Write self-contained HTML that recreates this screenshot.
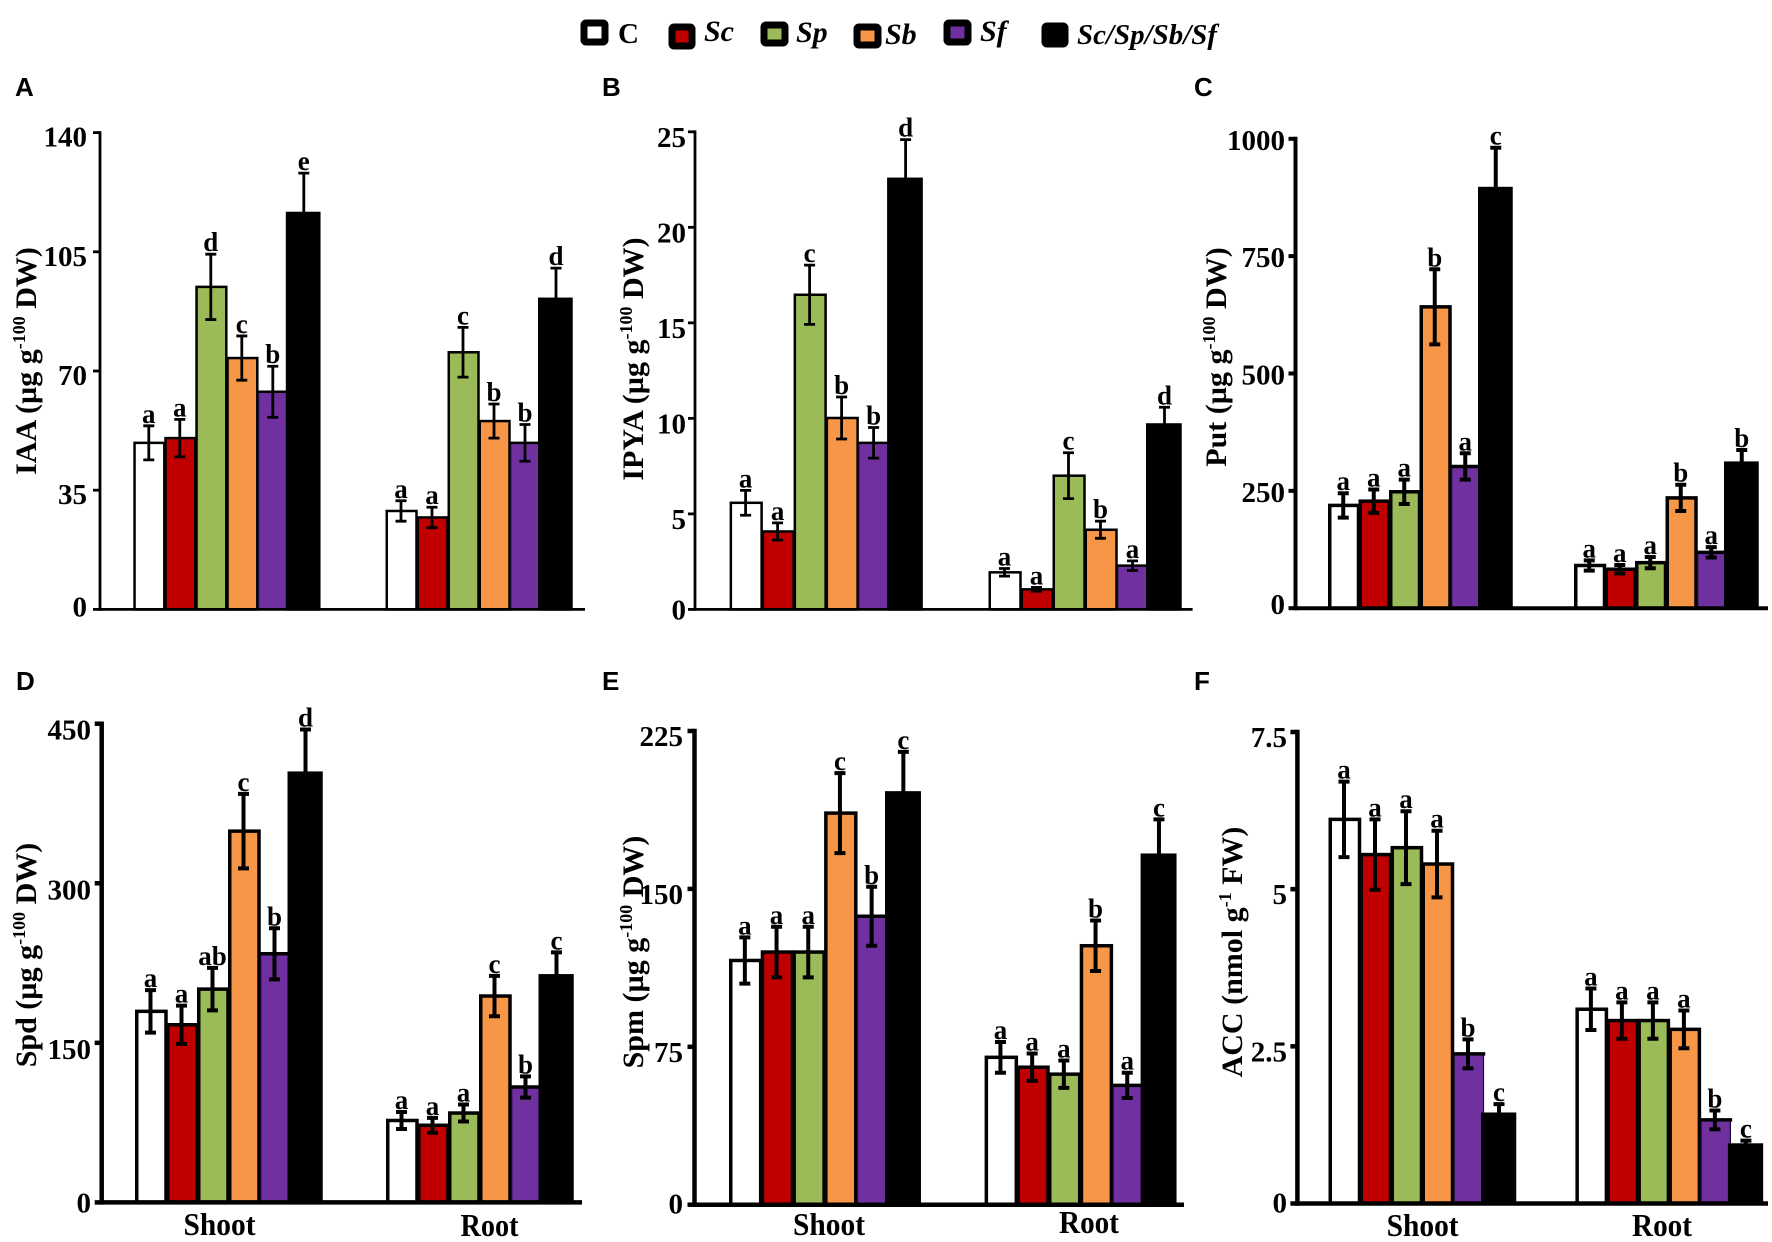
<!DOCTYPE html>
<html lang="en">
<head>
<meta charset="utf-8">
<title>Auxin and polyamine content in shoot and root</title>
<style>
html,body{margin:0;padding:0;background:#fff;width:1772px;height:1242px;overflow:hidden}
svg{display:block}
text{font-family:"Liberation Serif",serif;font-weight:700;fill:#000}
.panel-tag{font-family:"Liberation Sans",sans-serif;font-size:26px}
.ytitle{font-size:30px;text-anchor:middle}
.legend-text{font-size:30px;font-style:italic}
</style>
</head>
<body>
<svg id="figure" xmlns="http://www.w3.org/2000/svg" width="1772" height="1242" viewBox="0 0 1772 1242">
  <rect x="0" y="0" width="1772" height="1242" fill="#fff"/>
  <g>
    <g><rect x="584" y="23" width="21" height="19" rx="2" fill="#fff" stroke="#000" stroke-width="7"/><text x="618" y="43" font-size="29">C</text></g>
    <g><rect x="672" y="27" width="20" height="19" rx="2" fill="#c00000" stroke="#000" stroke-width="7"/><text class="legend-text" x="704" y="41">Sc</text></g>
    <g><rect x="764" y="25" width="21" height="18" rx="2" fill="#9bbb59" stroke="#000" stroke-width="7"/><text class="legend-text" x="796" y="42">Sp</text></g>
    <g><rect x="857" y="27" width="21" height="18" rx="2" fill="#f79646" stroke="#000" stroke-width="7"/><text class="legend-text" x="885" y="44">Sb</text></g>
    <g><rect x="947" y="23" width="21" height="19" rx="2" fill="#7030a0" stroke="#000" stroke-width="7"/><text class="legend-text" x="980" y="41">Sf</text></g>
    <g><rect x="1045" y="26" width="20" height="18" rx="2" fill="#000" stroke="#000" stroke-width="7"/><text x="1077" y="44" font-size="29" font-style="italic" textLength="140" lengthAdjust="spacingAndGlyphs">Sc/Sp/Sb/Sf</text></g>
  </g>

  <text class="panel-tag" x="15" y="96">A</text>
  <text class="panel-tag" x="602" y="96">B</text>
  <text class="panel-tag" x="1194" y="96">C</text>
  <text class="panel-tag" x="16" y="690">D</text>
  <text class="panel-tag" x="602" y="690">E</text>
  <text class="panel-tag" x="1194" y="690">F</text>

  <text class="ytitle" transform="translate(36 361) rotate(-90)">IAA (µg g<tspan font-size="18" dy="-11">-100</tspan><tspan dy="11"> DW)</tspan></text>
  <text class="ytitle" transform="translate(643 359) rotate(-90)">IPYA (µg g<tspan font-size="18" dy="-11">-100</tspan><tspan dy="11"> DW)</tspan></text>
  <text class="ytitle" transform="translate(1226 357) rotate(-90)">Put (µg g<tspan font-size="18" dy="-11">-100</tspan><tspan dy="11"> DW)</tspan></text>
  <text class="ytitle" transform="translate(36 955) rotate(-90)">Spd (µg g<tspan font-size="18" dy="-11">-100</tspan><tspan dy="11"> DW)</tspan></text>
  <text class="ytitle" transform="translate(643 952) rotate(-90)">Spm (µg g<tspan font-size="18" dy="-11">-100</tspan><tspan dy="11"> DW)</tspan></text>
  <text class="ytitle" transform="translate(1242 952) rotate(-90)">ACC (nmol g<tspan font-size="18" dy="-11">-1</tspan><tspan dy="11"> FW)</tspan></text>

  <g id="plots"></g>
</svg>
<script>
const categories = ['Shoot', 'Root'];
const seriesNames = ['C', 'Sc', 'Sp', 'Sb', 'Sf', 'Sc/Sp/Sb/Sf'];
const seriesColors = ['#ffffff', '#c00000', '#9bbb59', '#f79646', '#7030a0', '#000000'];

const iaaTicks = [0, 35, 70, 105, 140];
const iaaShoot = [48.9, 50.3, 94.7, 73.8, 63.9, 116.4];
const iaaShootErr = [5, 5.5, 9.6, 6.5, 7.5, 11.7];
const iaaShootLetters = ['a', 'a', 'd', 'c', 'b', 'e'];
const iaaRoot = [28.9, 27, 75.5, 55.3, 48.9, 91.2];
const iaaRootErr = [3, 3, 7.3, 5, 5.4, 9];
const iaaRootLetters = ['a', 'a', 'c', 'b', 'b', 'd'];

const ipyaTicks = [0, 5, 10, 15, 20, 25];
const ipyaShoot = [5.58, 4.08, 16.47, 10.02, 8.72, 22.54];
const ipyaShootErr = [0.65, 0.45, 1.55, 1.1, 0.8, 2.05];
const ipyaShootLetters = ['a', 'a', 'c', 'b', 'b', 'd'];
const ipyaRoot = [1.94, 1.05, 7, 4.17, 2.29, 9.68];
const ipyaRootErr = [0.2, 0.1, 1.2, 0.45, 0.25, 0.9];
const ipyaRootLetters = ['a', 'a', 'c', 'b', 'a', 'd'];

const putTicks = [0, 250, 500, 750, 1000];
const putShoot = [219, 228, 248, 642, 302, 894];
const putShootErr = [26, 25, 26, 80, 28, 87];
const putShootLetters = ['a', 'a', 'a', 'b', 'a', 'c'];
const putRoot = [91, 83, 97, 235, 119, 309];
const putRootErr = [11, 9, 12, 28, 11, 28];
const putRootLetters = ['a', 'a', 'a', 'b', 'a', 'b'];

const spdTicks = [0, 150, 300, 450];
const spdShoot = [179.6, 167, 200.5, 349, 233.7, 403.5];
const spdShootErr = [20, 18, 20, 35, 24, 41];
const spdShootLetters = ['a', 'a', 'ab', 'c', 'b', 'd'];
const spdRoot = [77, 72.5, 84, 194, 108.5, 213];
const spdRootErr = [8, 7, 8, 19, 10, 22];
const spdRootLetters = ['a', 'a', 'a', 'c', 'b', 'c'];

const spmTicks = [0, 75, 150, 225];
const spmShoot = [116, 120, 120, 186, 137, 195.6];
const spmShootErr = [11, 12, 12, 19, 14, 19.5];
const spmShootLetters = ['a', 'a', 'a', 'c', 'b', 'c'];
const spmRoot = [70, 65.3, 62, 123, 56.7, 166];
const spmRootErr = [7.3, 6.5, 6.5, 12, 6, 17];
const spmRootLetters = ['a', 'a', 'a', 'b', 'a', 'c'];

const accTicks = [0, 2.5, 5, 7.5];
const accShoot = [6.11, 5.55, 5.66, 5.4, 2.38, 1.42];
const accShootErr = [0.6, 0.56, 0.58, 0.53, 0.23, 0.16];
const accShootLetters = ['a', 'a', 'a', 'a', 'b', 'c'];
const accRoot = [3.09, 2.91, 2.91, 2.77, 1.33, 0.93];
const accRootErr = [0.33, 0.29, 0.29, 0.3, 0.15, 0.07];
const accRootLetters = ['a', 'a', 'a', 'a', 'b', 'c'];

const SVG_NS = 'http://www.w3.org/2000/svg';
const plots = document.getElementById('plots');

function mk(parent, tag, props, content) {
  const node = document.createElementNS(SVG_NS, tag);
  for (const key in props) node.setAttribute(key, props[key]);
  if (content !== undefined) node.textContent = content;
  parent.appendChild(node);
  return node;
}

function drawPanel(p) {
  const g = mk(plots, 'g', {});
  
  
  const maxV = p.ticks[p.ticks.length - 1];
  const yScale = function (v) { return p.base - (v / maxV) * (p.base - p.top); };
  const xScale = function (group, series) { return p.groupStart[group] + series * p.step; };

  p.groups.forEach(function (grp, gi) {
    grp.values.forEach(function (value, si) {
      const x = xScale(gi, si);
      const y = yScale(value);
      const cx = x + p.step / 2;
      const isPurple = si === 4;
      const isBlack = si === 5;
      const leftShift = isBlack ? 2.5 : 0;
      const strokeW = isPurple ? 1.2 : p.sw;
      const bar = mk(g, 'rect', {
        x: x + p.sw / 2 - leftShift, y: y, width: p.step - p.sw / 2 + leftShift, height: p.base - y,
        fill: seriesColors[si], stroke: isPurple ? '#1c0c3a' : '#000', 'stroke-width': strokeW
      });
      
      

      if (isPurple) {
        const edge = mk(g, 'line', {
          x1: x, x2: x + p.step + p.sw / 2, y1: y, y2: y, stroke: '#000', 'stroke-width': p.sw
        });
        
        
      }

      const hi = yScale(value + grp.errors[si]);
      const lo = yScale(value - grp.errors[si]);
      const err = mk(g, 'path', {
        d: 'M' + cx + ' ' + hi + 'V' + lo + 'M' + (cx - 5.5) + ' ' + hi + 'H' + (cx + 5.5) + 'M' + (cx - 5.5) + ' ' + lo + 'H' + (cx + 5.5),
        fill: 'none', stroke: '#000', 'stroke-width': p.errWidth
      });
      
      

      const letter = mk(g, 'text', {
        x: cx, y: hi - 3, 'text-anchor': 'middle', 'font-size': 27
      }, grp.letters[si]);
      
      
    });
  });

  const yAxis = mk(g, 'line', {
    x1: p.axisX, x2: p.axisX, y1: p.top - p.axisW / 2, y2: p.base + p.axisW / 2,
    stroke: '#000', 'stroke-width': p.axisW
  });
  
  

  const xAxis = mk(g, 'line', {
    x1: p.axisX, x2: p.xEnd, y1: p.base, y2: p.base,
    stroke: '#000', 'stroke-width': p.axisW
  });
  
  

  p.ticks.forEach(function (t) {
    const y = yScale(t);
    const tick = mk(g, 'line', {
      x1: p.axisX - 7, x2: p.axisX, y1: y, y2: y, stroke: '#000', 'stroke-width': p.axisW
    });
    
    
    const label = mk(g, 'text', {
      x: p.labelX, y: y + (t === 0 ? p.zeroOffset : p.labelOffset),
      'text-anchor': 'end', 'font-size': 29
    }, String(t));
    
    
  });

  if (p.catX) {
    categories.forEach(function (c, i) {
      const cat = mk(g, 'text', {
        x: p.catX[i], y: p.catY[i], 'text-anchor': 'middle', 'font-size': 32,
        textLength: p.catLen[i], lengthAdjust: 'spacingAndGlyphs'
      }, c);
      
      
    });
  }
}

drawPanel({ id: 'iaa', ticks: iaaTicks, axisX: 100, top: 132.6, base: 609.4, xEnd: 585,
  groupStart: [133.3, 385.5], step: 31, sw: 2.5, errWidth: 2.8, axisW: 2.8,
  labelX: 87, labelOffset: 14, zeroOffset: 7,
  groups: [{ values: iaaShoot, errors: iaaShootErr, letters: iaaShootLetters },
           { values: iaaRoot, errors: iaaRootErr, letters: iaaRootLetters }] });

drawPanel({ id: 'ipya', ticks: ipyaTicks, axisX: 695, top: 131.8, base: 609.4, xEnd: 1192.6,
  groupStart: [729.6, 988.5], step: 32, sw: 2.5, errWidth: 2.8, axisW: 2.8,
  labelX: 686, labelOffset: 15, zeroOffset: 10,
  groups: [{ values: ipyaShoot, errors: ipyaShootErr, letters: ipyaShootLetters },
           { values: ipyaRoot, errors: ipyaRootErr, letters: ipyaRootLetters }] });

drawPanel({ id: 'put', ticks: putTicks, axisX: 1295.5, top: 138.8, base: 608.2, xEnd: 1768,
  groupStart: [1328, 1574], step: 30.5, sw: 3.5, errWidth: 4, axisW: 4,
  labelX: 1285, labelOffset: 11, zeroOffset: 6,
  groups: [{ values: putShoot, errors: putShootErr, letters: putShootLetters },
           { values: putRoot, errors: putRootErr, letters: putRootLetters }] });

drawPanel({ id: 'spd', ticks: spdTicks, axisX: 101.7, top: 723.7, base: 1202.4, xEnd: 582,
  groupStart: [135, 386], step: 31, sw: 3.5, errWidth: 4, axisW: 4.5,
  labelX: 91, labelOffset: 16, zeroOffset: 10,
  catX: [219.5, 489.5], catY: [1235, 1236], catLen: [72, 58],
  groups: [{ values: spdShoot, errors: spdShootErr, letters: spdShootLetters },
           { values: spdRoot, errors: spdRootErr, letters: spdRootLetters }] });

drawPanel({ id: 'spm', ticks: spmTicks, axisX: 694.5, top: 731, base: 1204.7, xEnd: 1184,
  groupStart: [729, 984.6], step: 31.7, sw: 3.5, errWidth: 4, axisW: 4.5,
  labelX: 683, labelOffset: 15, zeroOffset: 9,
  catX: [829, 1089], catY: [1235, 1233], catLen: [72, 60],
  groups: [{ values: spmShoot, errors: spmShootErr, letters: spmShootLetters },
           { values: spmRoot, errors: spmRootErr, letters: spmRootLetters }] });

drawPanel({ id: 'acc', ticks: accTicks, axisX: 1297.4, top: 732, base: 1203.5, xEnd: 1768,
  groupStart: [1328.5, 1575.4], step: 31, sw: 3.5, errWidth: 4, axisW: 4.5,
  labelX: 1287, labelOffset: 15, zeroOffset: 9,
  catX: [1422.6, 1662], catY: [1236, 1236], catLen: [72, 60],
  groups: [{ values: accShoot, errors: accShootErr, letters: accShootLetters },
           { values: accRoot, errors: accRootErr, letters: accRootLetters }] });
</script>
</body>
</html>
